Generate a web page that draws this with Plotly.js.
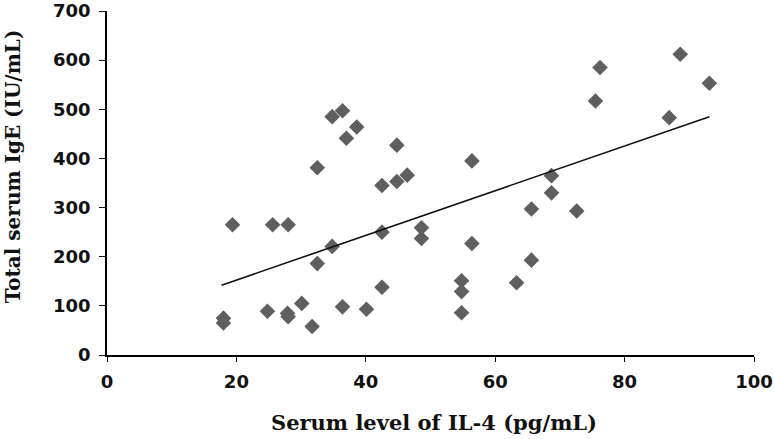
<!DOCTYPE html>
<html>
<head>
<meta charset="utf-8">
<script src="https://cdn.plot.ly/plotly-3.0.1.min.js"></script>
<style>
  body { margin: 0; background: #fff; }
  #grafica { width: 774px; height: 439px; }
</style>
</head>
<body>
<div id="grafica"></div>
<script>
// IL-4 (pg/mL) vs total IgE (IU/mL)
var il4 = [18, 18, 19.4, 24.8, 25.6, 27.9, 28.0, 28.0, 30.1, 31.7,
           32.5, 32.5, 34.8, 34.8, 36.4, 36.4, 37.0, 38.6, 40.1, 42.5,
           42.5, 42.5, 44.8, 44.8, 46.4, 48.6, 48.6, 54.8, 54.8, 54.8,
           56.4, 56.4, 63.3, 65.6, 65.6, 68.7, 68.7, 72.6, 75.5, 76.2,
           86.9, 88.6, 93.1];
var ige = [75, 65, 265, 89, 265, 85, 78, 265, 105, 58,
           186, 381, 221, 485, 497, 98, 441, 464, 93, 138,
           250, 345, 353, 427, 366, 259, 237, 151, 129, 86,
           227, 395, 147, 193, 297, 330, 365, 293, 517, 585,
           483, 612, 553];

// linear trend line ends
var trendX = [17.7, 93.1];
var trendY = [142, 485];

var xTitulo = 'Serum level of IL-4 (pg/mL)';
var yTitulo = 'Total serum IgE (IU/mL)';

var data = [
    {
        x: il4,
        y: ige,
        mode: 'markers',
        type: 'scatter',
        marker: {symbol: 'diamond', size: 12, color: '#5f5f5f'},
        hoverinfo: 'x+y'
    },
    {
        x: trendX,
        y: trendY,
        mode: 'lines',
        type: 'scatter',
        line: {color: '#111', width: 1.6}
    }
];

var tickFont = {family: 'DejaVu Sans', size: 18, color: '#111', weight: 'bold'};

var layout = {
    width: 774,
    height: 439,
    showlegend: false,
    paper_bgcolor: '#fff',
    plot_bgcolor: '#fff',
    margin: {l: 107, r: 20, t: 11, b: 84},
    xaxis: {
        range: [0, 100],
        dtick: 20,
        showgrid: false,
        zeroline: false,
        showline: true,
        linecolor: '#000',
        linewidth: 1.5,
        ticks: 'outside',
        ticklen: 5,
        tickcolor: '#000',
        tickfont: tickFont,
        ticklabelstandoff: 5
    },
    yaxis: {
        range: [0, 700],
        dtick: 100,
        showgrid: false,
        zeroline: false,
        showline: true,
        linecolor: '#000',
        linewidth: 1.5,
        ticks: 'outside',
        ticklen: 6,
        tickcolor: '#000',
        tickfont: tickFont,
        ticklabelstandoff: 5
    },
    annotations: [
        {
            text: xTitulo, showarrow: false,
            font: {family: 'DejaVu Serif', size: 21, color: '#111', weight: 'bold'},
            xref: 'paper', yref: 'paper', x: 0.505, y: -0.195,
            xanchor: 'center', yanchor: 'middle'
        },
        {
            text: yTitulo, showarrow: false, textangle: -90,
            font: {family: 'DejaVu Serif', size: 20, color: '#111', weight: 'bold'},
            xref: 'paper', yref: 'paper', x: -0.145, y: 0.549,
            xanchor: 'center', yanchor: 'middle'
        }
    ]
};

Plotly.newPlot('grafica', data, layout, {displayModeBar: false});
</script>
</body>
</html>
